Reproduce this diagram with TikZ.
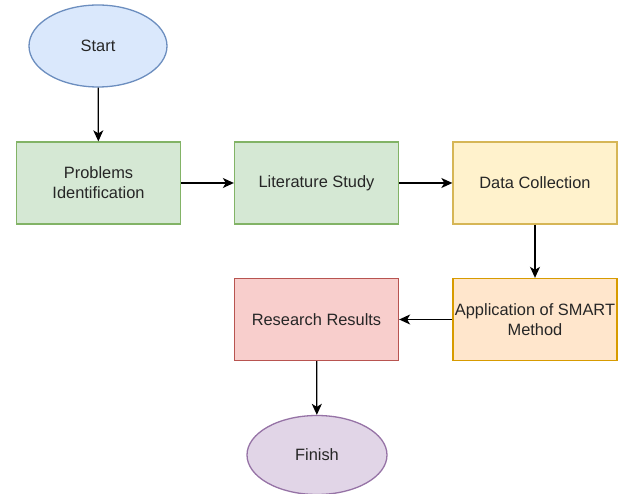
\documentclass[tikz,border=0pt]{standalone}
\usepackage{fontspec}
\setmainfont{Liberation Sans}
\usetikzlibrary{shapes.geometric,arrows.meta}
\definecolor{bluefill}{HTML}{DAE8FC}\definecolor{bluedraw}{HTML}{6C8EBF}
\definecolor{greenfill}{HTML}{D5E8D4}\definecolor{greendraw}{HTML}{82B366}
\definecolor{yellowfill}{HTML}{FFF2CC}\definecolor{yellowdraw}{HTML}{D6B656}
\definecolor{orangefill}{HTML}{FFE6CC}\definecolor{orangedraw}{HTML}{D79B00}
\definecolor{redfill}{HTML}{F8CECC}\definecolor{reddraw}{HTML}{B85450}
\definecolor{purplefill}{HTML}{E1D5E7}\definecolor{purpledraw}{HTML}{9673A6}
\tikzset{
  base/.style={line width=1.3pt, inner sep=0pt, align=center,
    font=\fontsize{16.4}{20}\selectfont, text=black!85},
  stepbox/.style={base, rectangle, minimum width=164pt, minimum height=82pt},
  term/.style={base, ellipse, minimum width=138pt, minimum height=82pt},
  conn/.style={line width=1.3pt, -{Stealth[length=11pt,width=10pt,inset=3pt]}}
}
\begin{document}
\begin{tikzpicture}[x=1pt,y=-1pt]
\useasboundingbox (0,0) rectangle (619,494);
\node[term, draw=bluedraw, fill=bluefill] (start) at (98,46) {Start};
\node[stepbox, draw=greendraw, fill=greenfill] (prob) at (98.5,183) {Problems\\Identification};
\node[stepbox, draw=greendraw, fill=greenfill] (lit) at (316.5,183) {Literature Study};
\node[stepbox, draw=yellowdraw, fill=yellowfill] (data) at (535,183) {Data Collection};
\node[stepbox, draw=orangedraw, fill=orangefill] (app) at (535,319.5) {Application of SMART\\Method};
\node[stepbox, draw=reddraw, fill=redfill] (res) at (316.5,319.5) {Research Results};
\node[term, draw=purpledraw, fill=purplefill, minimum width=140pt, minimum height=79pt] (fin) at (317,455) {Finish};
\draw[conn] (start) -- (prob);
\draw[conn] (prob) -- (lit);
\draw[conn] (lit) -- (data);
\draw[conn] (data) -- (app);
\draw[conn] (app) -- (res);
\draw[conn] (res) -- (fin);
\end{tikzpicture}
\end{document}
